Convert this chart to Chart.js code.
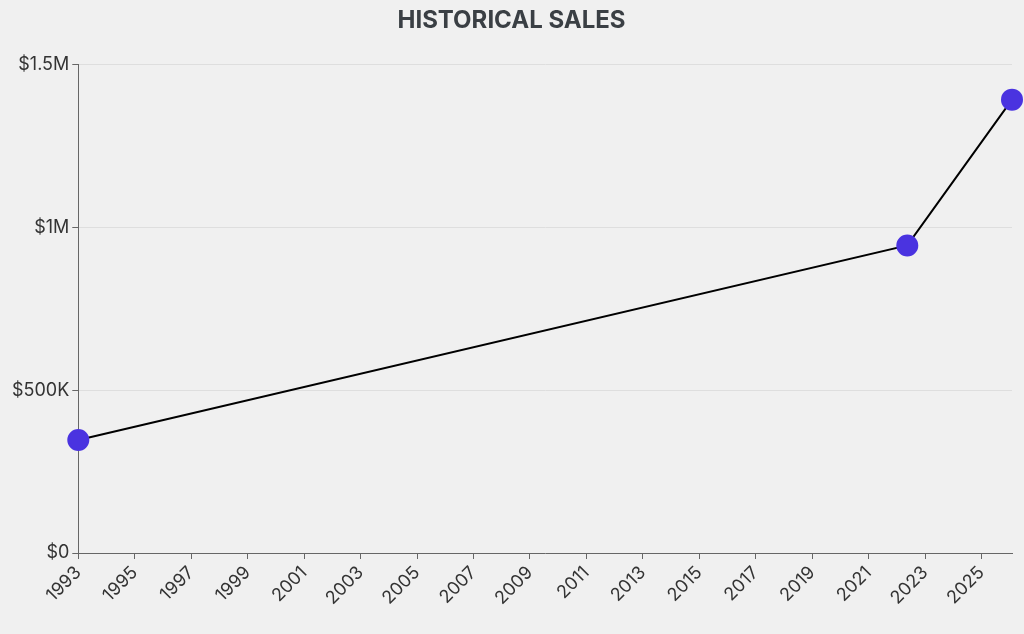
<!DOCTYPE html>
<html>
<head>
<meta charset="utf-8">
<style>
  html, body { margin: 0; padding: 0; background: #f0f0f0; }
  #wrap { width: 1024px; height: 634px; }
</style>
<script src="https://cdn.jsdelivr.net/npm/chart.js@4/dist/chart.umd.min.js"></script>
</head>
<body>
<div id="wrap"><canvas id="sales-chart"></canvas></div>
<script>
'use strict';
// DATA
const saleYears = [1993, 2022.37, 2026.08];
const saleValues = [347000, 945000, 1393000];
const xTickYears = [1993, 1995, 1997, 1999, 2001, 2003, 2005, 2007, 2009, 2011, 2013, 2015, 2017, 2019, 2021, 2023, 2025];
const yTickValues = [0, 500000, 1000000, 1500000];
const yTickLabels = ['$0', '$500K', '$1M', '$1.5M'];

const FONT = 'Inter, "Noto Sans", sans-serif';

function createSalesChart() {
  const data = {
    datasets: [
      {
        label: 'Sales',
        data: saleYears.map((yr, i) => ({ x: yr, y: saleValues[i] })),
        borderColor: '#000000',
        borderWidth: 2,
        pointBackgroundColor: '#4a33e0',
        pointBorderColor: '#4a33e0',
        pointRadius: 10,
        pointHoverRadius: 10,
        clip: false,
        tension: 0,
      },
    ],
  };

  const config = {
    type: 'line',
    data: data,
    options: {
      responsive: true,
      maintainAspectRatio: false,
      animation: false,
      layout: { padding: { top: 6, right: 10, left: 9, bottom: 22 } },
      plugins: {
        legend: { display: false },
        tooltip: { enabled: false },
        title: {
          display: true,
          text: 'HISTORICAL SALES',
          color: '#3a3f44',
          font: { family: FONT, size: 24, weight: 'bold' },
          padding: { top: 0, bottom: 30 },
        },
      },
      scales: {
        x: {
          type: 'linear',
          min: saleYears[0],
          max: saleYears[saleYears.length - 1],
          afterBuildTicks: (scale) => {
            scale.ticks = xTickYears.map((v) => ({ value: v }));
          },
          border: { color: '#666666', width: 1 },
          grid: { drawOnChartArea: false, drawTicks: true, tickLength: 6, tickColor: '#666666' },
          ticks: {
            autoSkip: false,
            minRotation: 45,
            maxRotation: 45,
            color: '#333333',
            font: { family: FONT, size: 18 },
            callback: (v) => String(v),
          },
        },
        y: {
          min: 0,
          max: 1500000,
          afterBuildTicks: (scale) => {
            scale.ticks = yTickValues.map((v) => ({ value: v }));
          },
          border: { color: '#666666', width: 1 },
          grid: { color: '#dedede', tickLength: 6, tickColor: '#666666' },
          ticks: {
            color: '#333333',
            font: { family: FONT, size: 18 },
            callback: (v) => yTickLabels[yTickValues.indexOf(v)],
          },
        },
      },
    },
  };
  new Chart(document.querySelector('#sales-chart'), config);
}

createSalesChart();
</script>
</body>
</html>
